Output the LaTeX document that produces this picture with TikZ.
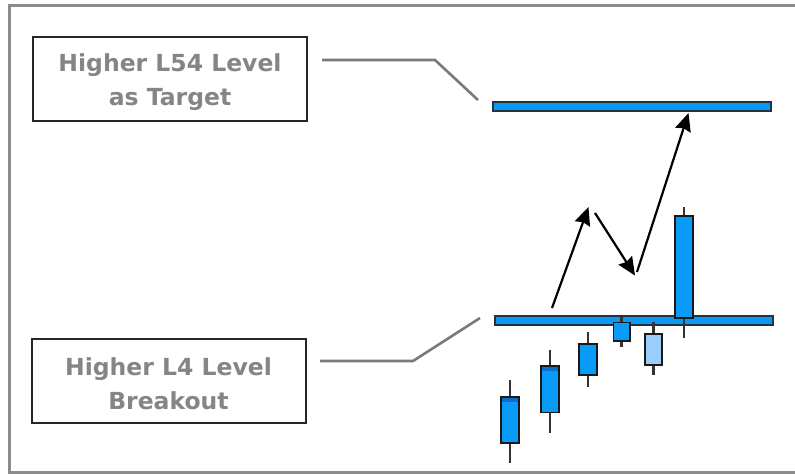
\documentclass[tikz,border=0pt]{standalone}
\usepackage{fontspec}
\setmainfont{DejaVu Sans}
\usetikzlibrary{arrows.meta}
\definecolor{frame}{HTML}{8C8C8C}
\definecolor{labeltext}{HTML}{858585}
\definecolor{leader}{HTML}{7A7A7A}
\definecolor{levelblue}{HTML}{0A98F2}
\definecolor{levelrim}{HTML}{23323F}
\definecolor{bull}{HTML}{0A9AF7}
\definecolor{bulltop}{HTML}{0A6FC8}
\definecolor{bear}{HTML}{9ACDFA}
\tikzset{
  labelbox/.style={draw=black!85, line width=2pt, inner sep=0pt,
    minimum width=274pt, minimum height=84pt},
  labeltxt/.style={align=center, yshift=-3.5pt, inner sep=0pt,
    font=\bfseries\fontsize{23.5}{34}\selectfont, text=labeltext},
  leaderline/.style={draw=leader, line width=2.6pt},
  levelbar/.style={draw=levelrim, fill=levelblue, line width=1.6pt,
    inner sep=0pt, minimum height=9pt},
  wick/.style={draw=black!80, line width=2.4pt},
  body/.style={draw=black!90, line width=1.6pt},
  move/.style={draw=black, line width=2.2pt, -{Stealth[length=18pt,width=16pt,inset=2pt]}}
}
\begin{document}
\begin{tikzpicture}[x=1pt,y=-1pt]
\useasboundingbox (0,0) rectangle (795,474);
\fill[white] (0,0) rectangle (795,474);
% outer frame, open to the right
\draw[frame, line width=3pt] (805,5.5) -- (9.5,5.5) -- (9.5,472.5) -- (805,472.5);

% label boxes
\node[labelbox, label={[labeltxt]center:{Higher L54 Level\\as Target}}] (target) at (170,78.5) {};
\node[labelbox, label={[labeltxt]center:{Higher L4 Level\\Breakout}}] (breakout) at (168.5,380.5) {};

% price levels
\node[levelbar, minimum width=278pt] (upper) at (632,106.5) {};
\node[levelbar, minimum width=278pt] (lower) at (634,320.5) {};

% leader lines from the labels to the levels
\coordinate (t1) at (322,60);
\coordinate (t2) at (435,60);
\coordinate (t3) at (478,100);
\draw[leaderline] (t1) -- (t2) -- (t3);
\coordinate (b1) at (320,361);
\coordinate (b2) at (413,361);
\coordinate (b3) at (480,318);
\draw[leaderline] (b1) -- (b2) -- (b3);

% candles: wick, then body
\draw[wick] (510,380) -- (510,463);
\draw[body, fill=bull] (501,397) rectangle (519,443);
\fill[bulltop] (501.8,397.8) rectangle (518.2,401.5);
\draw[wick] (550,350) -- (550,433);
\draw[body, fill=bull] (541,366) rectangle (559,412.5);
\fill[bulltop] (541.8,366.8) rectangle (558.2,370.5);
\draw[wick] (588,332) -- (588,387);
\draw[body, fill=bull] (579,344) rectangle (597,375);
\draw[wick] (621.5,317) -- (621.5,347);
\draw[body, fill=bull] (613.5,322.5) rectangle (630,341);
\draw[wick] (653.5,322) -- (653.5,375);
\draw[body, fill=bear] (645,334) rectangle (662,365);
\draw[wick] (684,207) -- (684,338);
\draw[body, fill=bull] (675,216) rectangle (693,318);

% expected price path
\coordinate (p0) at (552,308);
\coordinate (p1) at (588.5,207);
\coordinate (p2) at (595,213);
\coordinate (p3) at (635,275.5);
\coordinate (p4) at (637,272);
\coordinate (p5) at (688.5,113);
\draw[move] (p0) -- (p1);
\draw[move] (p2) -- (p3);
\draw[move] (p4) -- (p5);
\end{tikzpicture}
\end{document}
